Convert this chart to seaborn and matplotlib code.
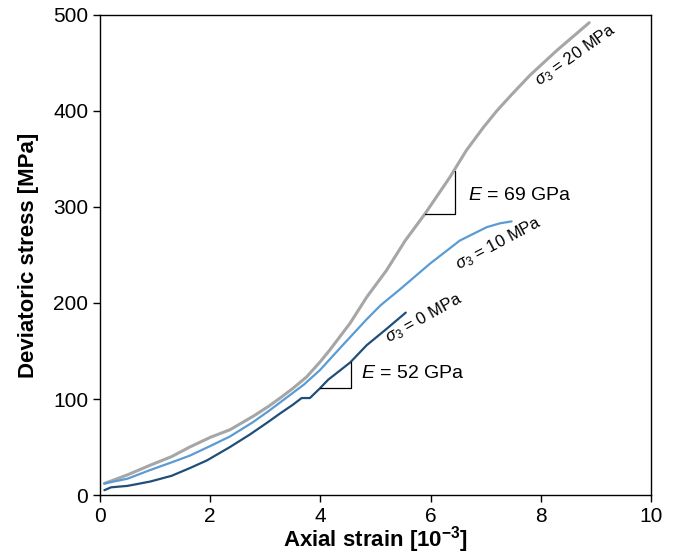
import matplotlib
matplotlib.use("Agg")
import matplotlib.pyplot as plt
import seaborn as sns

# strain [1e-3] vs deviatoric stress [MPa]
gray_x = [0.08, 0.5, 0.91, 1.3, 1.63, 2.0, 2.36, 2.78, 3.05, 3.27, 3.5, 3.75, 4.0, 4.17,
          4.54, 4.84, 5.20, 5.54, 5.90, 6.35, 6.65, 6.96, 7.20, 7.47, 7.80, 8.29, 8.88]
gray_y = [12, 21, 31, 40, 50, 60, 68, 82, 92, 101, 111, 123, 139, 151,
          179, 206, 234, 265, 293, 331, 359, 383, 400, 417, 437, 463, 492]

blue_x = [0.08, 0.5, 0.91, 1.3, 1.63, 2.0, 2.36, 2.78, 3.05, 3.33, 3.7, 3.99, 4.42, 4.84,
          5.1, 5.44, 5.99, 6.53, 7.02, 7.26, 7.47]
blue_y = [12, 17, 26, 34, 41, 51, 61, 76, 87, 99, 115, 130, 157, 183,
          198, 214, 241, 265, 279, 283, 285]

dark_x = [0.08, 0.2, 0.5, 0.91, 1.3, 1.63, 1.94, 2.36, 2.72, 3.05, 3.27, 3.5, 3.66, 3.81,
          3.99, 4.14, 4.54, 4.84, 5.2, 5.55]
dark_y = [5, 8, 9.5, 14, 20, 28, 36, 50, 63, 76, 85, 94, 101, 101,
          111, 120, 138, 156, 173, 190]

# slope triangles
tri52_x = [4.0, 4.55, 4.55]
tri52_y = [111, 111, 139]
tri69_x = [5.90, 6.45, 6.45]
tri69_y = [293, 293, 338]

sns.set_style("ticks")
plt.rcParams["font.family"] = ["Liberation Sans", "DejaVu Sans"]
plt.rcParams["mathtext.fontset"] = "custom"
plt.rcParams["mathtext.rm"] = "Liberation Sans"
plt.rcParams["mathtext.it"] = "Liberation Sans:italic"
plt.rcParams["mathtext.bf"] = "Liberation Sans:bold"
for key in ["text.color", "axes.labelcolor", "xtick.color", "ytick.color", "axes.edgecolor"]:
    plt.rcParams[key] = "black"

fig = plt.figure(figsize=(6.82, 5.55), dpi=100)
ax = fig.add_axes([0.1466, 0.1081, 0.8079, 0.8649])

sns.lineplot(x=gray_x, y=gray_y, ax=ax, color="#A6A6A6", lw=2.2, sort=False, estimator=None)
sns.lineplot(x=blue_x, y=blue_y, ax=ax, color="#5B9BD5", lw=1.6, sort=False, estimator=None)
sns.lineplot(x=dark_x, y=dark_y, ax=ax, color="#1F4E79", lw=1.6, sort=False, estimator=None)

ax.plot(tri52_x, tri52_y, color="black", lw=0.9)
ax.plot(tri69_x, tri69_y, color="black", lw=0.9)

ax.text(4.73, 127, r"$E$ = 52 GPa", fontsize=14, va="center", ha="left")
ax.text(6.68, 312, r"$E$ = 69 GPa", fontsize=14, va="center", ha="left")

ax.text(8.63, 458, r"$\sigma_3$ = 20 MPa", fontsize=12, rotation=35,
        rotation_mode="anchor", ha="center", va="center")
ax.text(7.23, 262, r"$\sigma_3$ = 10 MPa", fontsize=12, rotation=28,
        rotation_mode="anchor", ha="center", va="center")
ax.text(5.88, 184, r"$\sigma_3$ = 0 MPa", fontsize=12, rotation=29,
        rotation_mode="anchor", ha="center", va="center")

ax.set_xlim(0, 10)
ax.set_ylim(0, 500)
ax.set_xticks([0, 2, 4, 6, 8, 10])
ax.set_yticks([0, 100, 200, 300, 400, 500])
ax.tick_params(labelsize=15, length=5, width=1, direction="out", color="black")
for s in ax.spines.values():
    s.set_visible(True)
    s.set_linewidth(1)
    s.set_color("black")

ax.set_xlabel(r"Axial strain [10$^{\mathbf{-3}}$]", fontsize=16, fontweight="bold", labelpad=-1)
ax.set_ylabel("Deviatoric stress [MPa]", fontsize=16, fontweight="bold", labelpad=10)

fig.savefig("out.png", dpi=100)
